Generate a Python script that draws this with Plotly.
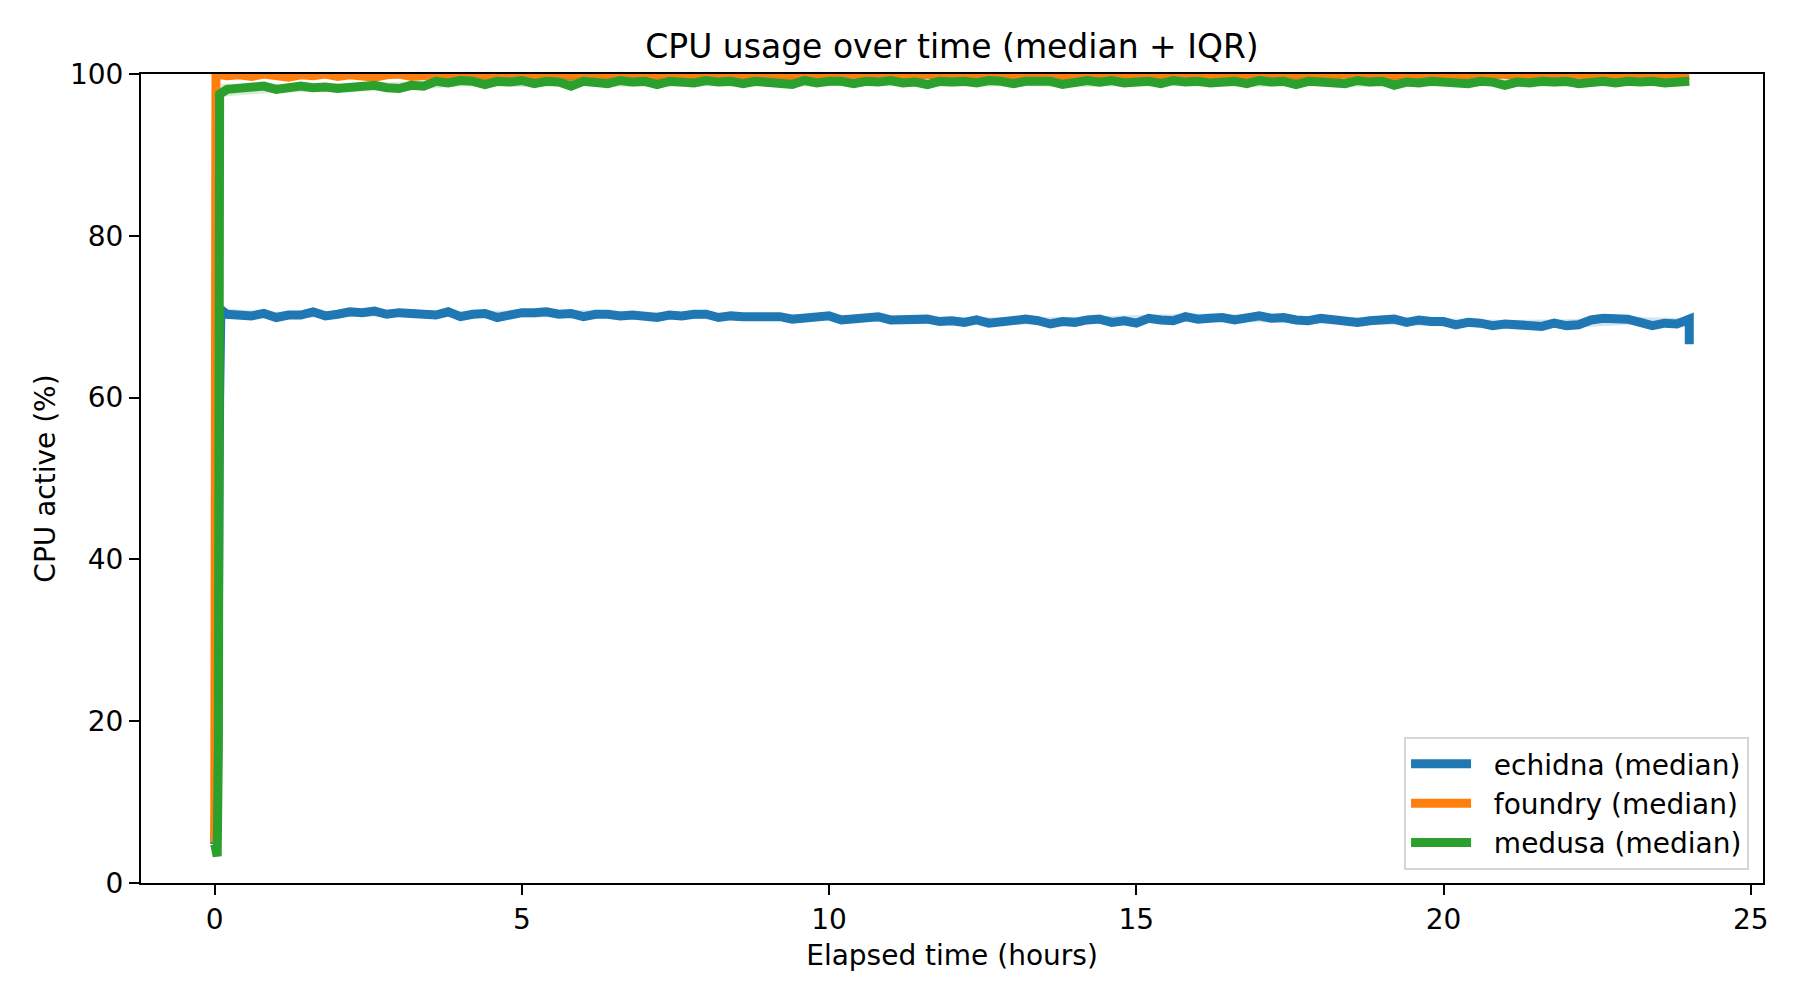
import numpy as np
import plotly.graph_objects as go

grid_t = np.round(np.arange(1, 121) * 0.2, 2).tolist()

echidna_start_t = [0.0, 0.05, 0.08, 0.1]
echidna_start = [4.8, 20.0, 60.0, 70.9]
echidna_med = [
    70.3, 70.1, 70.1, 70.4, 69.9, 70.2, 70.2, 70.6, 70.1, 70.3,
    70.6, 70.5, 70.7, 70.3, 70.5,
    70.4, 70.2, 70.2, 70.6, 70.0, 70.3, 70.4, 69.9, 70.3, 70.5,
    70.5, 70.6, 70.3, 70.4, 70.0, 70.3, 70.3, 70.1, 70.2, 70.0,
    69.9, 70.2, 70.1, 70.3, 70.3, 69.9, 70.1, 70.0, 70.0, 70.2,
    70.0, 69.7, 69.9, 69.9, 70.1, 69.6, 69.8, 69.8, 70.0, 69.6,
    69.7, 69.6, 69.7, 69.4, 69.5,
    69.3, 69.6, 69.2, 69.4, 69.4, 69.7, 69.5, 69.1, 69.4, 69.3,
    69.6, 69.7, 69.3, 69.5, 69.2, 69.8, 69.6, 69.5,
    70.0, 69.7, 69.8, 69.9, 69.6, 69.9, 70.1, 69.8, 69.9, 69.6,
    69.5, 69.8, 69.7, 69.6, 69.3, 69.5, 69.5,
    69.7, 69.3, 69.6, 69.4, 69.4, 69.0, 69.3, 69.2,
    68.9, 69.1, 69.0, 68.9, 68.8, 69.2, 68.9, 69.0,
    69.6, 69.8, 69.7, 69.7, 69.3,
    68.9, 69.2, 69.1,
    69.7,
]
echidna_end_t = [24.0]
echidna_end = [66.6]

foundry_start_t = [0.0, 0.01, 0.02, 0.1]
foundry_start = [5.0, 55.0, 99.8, 99.9]
foundry_med = [
    99.8, 99.9, 99.7, 100.0, 99.8, 99.6, 99.9, 99.8, 100.0, 99.7,
    99.9, 99.8, 99.6, 99.9, 100.0, 99.7, 99.8, 99.9, 99.7, 99.8,
    100.0, 99.8, 99.7, 99.9, 99.6, 99.8, 100.0, 99.9, 99.7, 99.8,
    99.9, 99.7, 99.8, 100.0, 99.8, 99.6, 99.9, 99.8, 99.7, 100.0,
    99.8, 99.9, 99.7, 99.8, 100.0, 99.6, 99.8, 99.9, 99.7, 99.8,
    99.9, 100.0, 99.7, 99.8, 99.6, 99.9, 99.8, 100.0, 99.7, 99.9,
    99.8, 99.7, 99.9, 100.0, 99.8, 99.6, 99.8, 99.9, 99.7, 100.0,
    99.8, 99.9, 99.6, 99.8, 100.0, 99.7, 99.9, 99.8, 99.7, 99.9,
    100.0, 99.8, 99.7, 99.9, 99.6, 99.8, 100.0, 99.8, 99.9, 99.7,
    99.8, 100.0, 99.7, 99.9, 99.8, 99.6, 99.9, 99.8, 100.0, 99.7,
    99.9, 99.8, 99.6, 99.9, 100.0, 99.7, 99.8, 99.9, 99.7, 99.8,
    100.0, 99.8, 99.7, 99.9, 99.6, 99.8, 100.0, 99.9, 99.7, 99.8,
]

medusa_start_t = [0.0, 0.04, 0.06, 0.07, 0.08]
medusa_start = [4.8, 3.3, 17.0, 65.0, 97.5]
medusa_med = [
    98.1, 98.3, 98.3, 98.5, 98.1, 98.2, 98.5, 98.3, 98.4, 98.2,
    98.4, 98.4, 98.6, 98.3, 98.2, 98.6, 98.5,
    99.1, 98.9, 99.2,
    99.1, 98.7, 99.1, 99.0, 99.2, 98.8, 99.1, 99.0, 98.5, 99.1,
    99.0, 98.8, 99.2, 99.0, 99.1, 98.7, 99.1, 99.1, 98.9, 99.2,
    99.0, 99.1, 98.8, 99.1, 99.0, 99.0, 98.7, 99.2, 98.9, 99.1,
    99.1, 98.8, 99.1, 99.0, 99.2, 98.9, 99.0, 98.7, 99.1, 99.0,
    99.1, 98.9, 99.2, 99.1, 98.8, 99.1, 99.0, 99.1, 98.7, 99.0,
    99.2, 99.0, 99.2, 98.9, 99.1, 99.1, 98.8, 99.2, 99.0, 99.1,
    98.9, 99.1, 99.1, 98.8, 99.2, 99.0, 99.1, 98.7, 99.1, 99.0,
    99.0, 98.8, 99.2, 99.0, 99.1, 98.6, 99.0, 98.9, 99.1, 99.0,
    99.1, 98.8, 99.1, 99.0, 98.6, 99.0, 98.9, 99.1, 99.0, 99.1,
    98.8, 99.0, 99.1, 98.9, 99.1, 99.0, 99.1, 98.9, 99.0, 99.1,
]

# IQR bands, hourly
band_t = [0.1] + list(range(1, 25))
echidna_q25 = [70.0, 69.8, 69.9, 70.1, 69.9, 69.9, 69.9, 69.8, 69.7, 69.6, 69.5, 69.3, 69.2,
               69.0, 69.1, 69.2, 69.4, 69.3, 69.1, 69.0, 68.8, 68.6, 68.6, 69.0, 68.7]
echidna_q75 = [71.0, 70.6, 70.7, 70.9, 70.7, 70.8, 70.8, 70.6, 70.5, 70.4, 70.3, 70.1, 70.0,
               69.9, 70.0, 70.2, 70.4, 70.3, 70.0, 69.9, 69.8, 69.6, 69.7, 70.0, 69.8]
foundry_q25 = [99.4, 99.5, 99.5, 99.4, 99.5, 99.5, 99.4, 99.5, 99.5, 99.4, 99.5, 99.5, 99.4,
               99.5, 99.5, 99.4, 99.5, 99.5, 99.4, 99.5, 99.5, 99.4, 99.5, 99.5, 99.4]
foundry_q75 = [100.0] * 25
medusa_q25 = [97.2, 97.7, 97.8, 97.9, 98.5, 98.4, 98.5, 98.4, 98.5, 98.4, 98.5, 98.5, 98.4,
              98.5, 98.4, 98.5, 98.5, 98.4, 98.5, 98.4, 98.5, 98.5, 98.4, 98.5, 98.5]
medusa_q75 = [98.8, 98.8, 98.9, 99.0, 99.5, 99.5, 99.6, 99.5, 99.5, 99.6, 99.5, 99.5, 99.6,
              99.5, 99.5, 99.6, 99.5, 99.5, 99.6, 99.5, 99.5, 99.6, 99.5, 99.5, 99.6]

series = [
    ("echidna", "#1f77b4", "rgba(31,119,180,0.2)",
     echidna_start_t + grid_t + echidna_end_t, echidna_start + echidna_med + echidna_end, echidna_q25, echidna_q75),
    ("foundry", "#ff7f0e", "rgba(255,127,14,0.2)",
     foundry_start_t + grid_t, foundry_start + foundry_med, foundry_q25, foundry_q75),
    ("medusa", "#2ca02c", "rgba(44,160,44,0.2)",
     medusa_start_t + grid_t, medusa_start + medusa_med, medusa_q25, medusa_q75),
]

FONT = "DejaVu Sans"
NB = "\u00a0"

fig = go.Figure()
for name, color, fillc, t, med, lo, hi in series:
    fig.add_trace(go.Scatter(
        x=band_t + band_t[::-1], y=hi + lo[::-1], fill="toself", fillcolor=fillc,
        line=dict(width=0), mode="lines", showlegend=False, hoverinfo="skip"))
    fig.add_trace(go.Scatter(
        x=t, y=med, mode="lines", name=f"{NB}{NB}{name} (median)",
        line=dict(color=color, width=9)))

axis_common = dict(
    showline=True, linecolor="black", linewidth=2, mirror=True,
    ticks="outside", ticklen=10, tickwidth=2, tickcolor="black",
    showgrid=False, zeroline=False,
    tickfont=dict(family=FONT, size=28, color="black"),
    ticklabelstandoff=0,
)

# the page body adds an 8px offset, so margins are shifted to compensate
fig.update_layout(
    width=1800, height=1000,
    paper_bgcolor="white", plot_bgcolor="white",
    margin=dict(l=133, r=45, t=66, b=125),
    font=dict(family=FONT, color="black"),
    title=dict(text="CPU usage over time (median + IQR)", x=(133 + 1755) / 2 / 1800, xanchor="center",
               y=1 - 38 / 1000, yanchor="middle", yref="container",
               font=dict(family=FONT, size=33, color="black")),
    xaxis=dict(axis_common, range=[-1.2, 25.2], tickvals=[0, 5, 10, 15, 20, 25],
               title=dict(text="Elapsed time (hours)", standoff=11,
                          font=dict(family=FONT, size=28, color="black"))),
    yaxis=dict(axis_common, range=[0, 100], tickvals=[0, 20, 40, 60, 80, 100],
               title=dict(text="CPU active (%)", standoff=6,
                          font=dict(family=FONT, size=28, color="black"))),
    legend=dict(x=0.9914, y=0.016, xanchor="right", yanchor="bottom",
                bgcolor="rgba(255,255,255,0.8)", bordercolor="#d5d5d5", borderwidth=2,
                font=dict(family=FONT, size=28, color="black"), itemwidth=60),
)

fig.write_html("out.html")
